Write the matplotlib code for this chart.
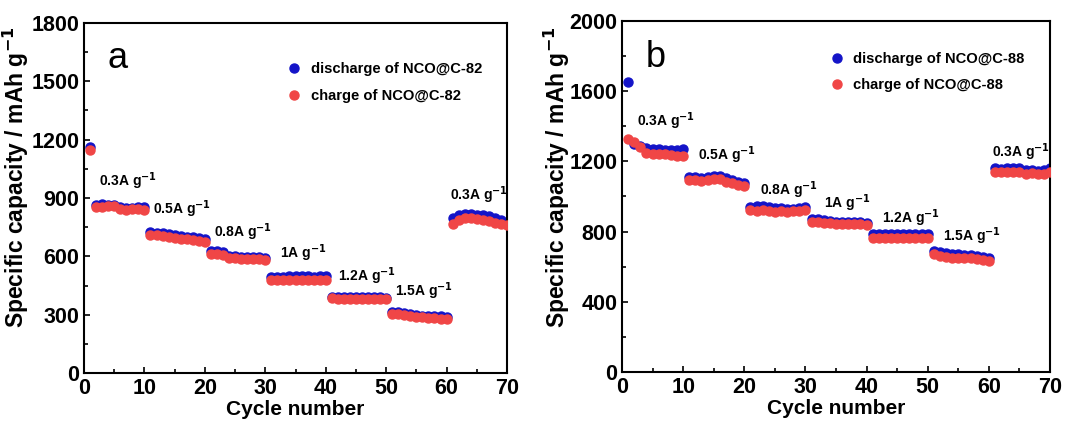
import numpy as np
import matplotlib
matplotlib.use("Agg")
from matplotlib import pyplot as plt
from matplotlib.ticker import MultipleLocator

plt.rcParams['font.family'] = ['Liberation Sans', 'DejaVu Sans']

cycles = np.arange(1, 71)

# panel a, NCO@C-82
dis_a = [1160,
         865, 868, 866, 865, 852, 850, 850, 852, 852,
         725, 722, 720, 715, 710, 705, 700, 698, 695, 690,
         625, 626, 624, 600, 600, 598, 598, 598, 596, 594,
         495, 495, 496, 497, 500, 498, 497, 496, 497, 498,
         392, 391, 391, 390, 390, 390, 389, 389, 389, 388,
         315, 312, 308, 303, 298, 295, 293, 292, 291, 290,
         795, 815, 818, 820, 815, 810, 805, 797, 788, 777]
chg_a = [1145,
         855, 856, 858, 857, 842, 840, 842, 843, 840,
         710, 708, 705, 700, 695, 690, 687, 682, 679, 675,
         610, 610, 608, 592, 590, 588, 588, 587, 585, 583,
         478, 477, 477, 478, 480, 479, 478, 477, 477, 478,
         384, 383, 383, 382, 382, 382, 381, 381, 381, 380,
         305, 302, 298, 294, 290, 286, 283, 281, 279, 278,
         765, 788, 795, 795, 790, 786, 780, 772, 766, 760]

# panel b, NCO@C-88
dis_b = [1650,
         1300, 1290, 1275, 1270, 1268, 1266, 1265, 1265, 1268,
         1110, 1110, 1105, 1110, 1118, 1115, 1108, 1095, 1085, 1075,
         940, 945, 945, 940, 935, 932, 930, 930, 935, 940,
         870, 870, 866, 862, 857, 855, 855, 855, 852, 850,
         785, 786, 787, 786, 785, 784, 785, 786, 787, 786,
         690, 682, 677, 673, 670, 668, 665, 662, 658, 652,
         1160, 1155, 1160, 1165, 1165, 1152, 1150, 1145, 1150, 1160]
chg_b = [1325,
         1312, 1280, 1250, 1245, 1245, 1243, 1238, 1230, 1230,
         1095, 1093, 1090, 1095, 1100, 1098, 1085, 1075, 1068, 1060,
         925, 920, 925, 918, 912, 915, 912, 915, 920, 925,
         855, 856, 850, 848, 845, 845, 845, 845, 842, 840,
         765, 765, 764, 765, 763, 761, 764, 765, 765, 765,
         670, 662, 656, 652, 652, 650, 647, 645, 640, 635,
         1140, 1138, 1140, 1142, 1140, 1130, 1132, 1128, 1130, 1140]

rates = ['0.3A g$^{\\mathbf{-1}}$', '0.5A g$^{\\mathbf{-1}}$', '0.8A g$^{\\mathbf{-1}}$',
         '1A g$^{\\mathbf{-1}}$', '1.2A g$^{\\mathbf{-1}}$', '1.5A g$^{\\mathbf{-1}}$',
         '0.3A g$^{\\mathbf{-1}}$']
rate_pos_a = [(2.5, 960), (11.5, 820), (21.5, 700), (32.5, 590), (42, 475), (51.5, 395), (60.5, 890)]
rate_pos_b = [(2.5, 1400), (12.5, 1210), (22.5, 1010), (33, 935), (42.5, 850), (52.5, 745), (60.5, 1225)]

BLUE = '#1414c8'
RED = '#f04646'

fig = plt.figure(figsize=(10.7, 4.23), dpi=100)
ax_a = fig.add_axes([84 / 1070, 50 / 423, 423 / 1070, 350 / 423])
ax_b = fig.add_axes([622 / 1070, 51 / 423, 428 / 1070, 351 / 423])


def draw(ax, dis, chg, name, letter, ymax, ymaj, rate_pos, leg_x, leg_y, ylab_xy):
    ax.plot(cycles, dis, 'o', color=BLUE, ms=6.5, label='discharge of ' + name, zorder=2)
    ax.plot(cycles, chg, 'o', color=RED, ms=6.5, label='charge of ' + name, zorder=3)
    ax.set_xlim(0, 70)
    ax.set_ylim(0, ymax)
    ax.xaxis.set_major_locator(MultipleLocator(10))
    ax.xaxis.set_minor_locator(MultipleLocator(5))
    ax.yaxis.set_major_locator(MultipleLocator(ymaj))
    ax.yaxis.set_minor_locator(MultipleLocator(ymaj / 2))
    ax.tick_params(which='both', direction='in', labelsize=15.5, width=1.2)
    ax.tick_params(which='major', length=4)
    ax.tick_params(which='minor', length=3)
    for lab in ax.get_xticklabels() + ax.get_yticklabels():
        lab.set_fontweight('bold')
    for sp in ax.spines.values():
        sp.set_linewidth(1.5)
    ax.set_xlabel('Cycle number', fontsize=15, fontweight='bold', labelpad=1)
    ax.set_ylabel('Specific capacity / mAh g$^{\\mathbf{-1}}$', fontsize=16.5, fontweight='bold')
    ax.yaxis.set_label_coords(*ylab_xy)
    ax.text(0.055, 0.87, letter, transform=ax.transAxes, fontsize=26)
    for txt, (x, y) in zip(rates, rate_pos):
        ax.text(x, y, txt, fontsize=10, fontweight='bold')
    ax.legend(loc='upper left', bbox_to_anchor=(leg_x, leg_y), frameon=False,
              prop={'size': 10.6, 'weight': 'bold'}, handletextpad=0.5,
              labelspacing=0.85, handlelength=1.2, markerscale=1.0)


draw(ax_a, dis_a, chg_a, 'NCO@C-82', 'a', 1800, 300, rate_pos_a, 0.445, 0.925, (-0.125, 0.56))
draw(ax_b, dis_b, chg_b, 'NCO@C-88', 'b', 2000, 400, rate_pos_b, 0.45, 0.95, (-0.117, 0.555))

fig.savefig('out.png', dpi=100)
